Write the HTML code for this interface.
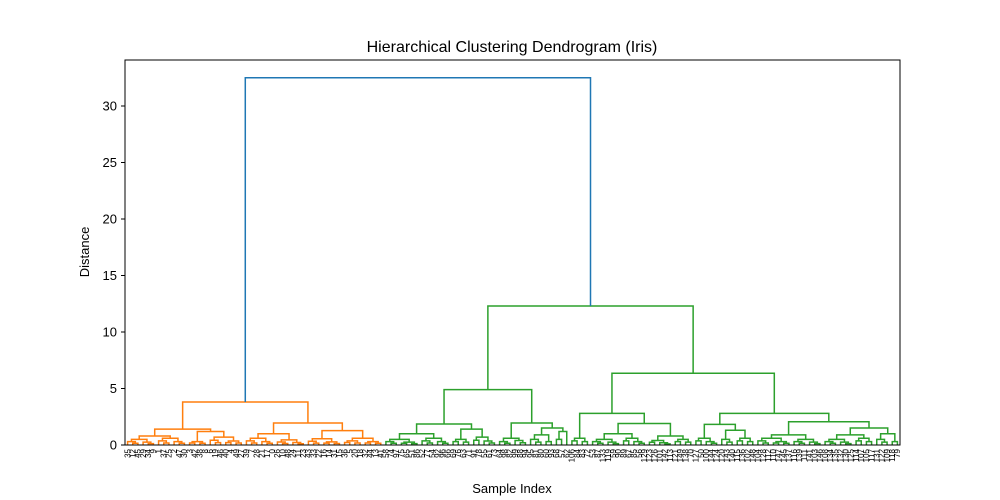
<!DOCTYPE html>
<html><head><meta charset="utf-8"><style>
body{margin:0;background:#fff}
svg{display:block;font-family:"Liberation Sans","DejaVu Sans",sans-serif}
</style></head><body>
<svg id="chart" width="1000" height="500" viewBox="0 0 1000 500">
<rect x="0" y="0" width="1000" height="500" fill="#fff"/>
<text x="512" y="52" text-anchor="middle" font-size="16">Hierarchical Clustering Dendrogram (Iris)</text>
<text x="512" y="493" text-anchor="middle" font-size="13">Sample Index</text>
<text transform="translate(89,252) rotate(-90)" text-anchor="middle" font-size="13">Distance</text>
<g id="links"></g>
<g id="yaxis"></g>
<g id="leaves"></g>
<rect x="125" y="60" width="775" height="385" fill="none" stroke="#000" stroke-width="1"/>
</svg>
<script>
const yTicks = [0, 5, 10, 15, 20, 25, 30];
const rootHeight = 32.5;
const orangeHeights = [3.8, 1.4, 0.8, 1.2, 1.95, 1.0, 1.27];
const greenHeights = [12.3, 4.9, 1.86, 1.0, 1.4, 1.95, 0.6, 1.5, 0.9, 1.2, 6.35, 2.8, 1.9, 1.0, 0.8, 2.8, 1.83, 1.3, 2.06, 0.9, 1.5, 0.9, 1.0];
const leafLabels = [35,12,45,29,34,9,1,37,25,2,47,30,3,42,38,8,6,19,46,40,4,49,27,39,7,28,21,17,0,26,10,48,24,11,23,43,33,22,16,14,31,15,36,5,20,18,32,44,13,41,
 58,74,97,75,65,51,86,52,77,54,92,96,66,69,76,63,71,91,78,55,61,73,64,98,82,99,88,94,95,81,80,60,93,68,57,62,
 106,84,83,72,53,87,133,119,59,90,89,67,85,56,129,123,126,101,142,113,121,149,138,70,
 127,50,100,144,124,120,143,140,115,136,102,148,104,128,112,110,147,145,137,116,139,111,141,103,146,108,134,135,132,130,125,114,107,105,117,131,122,109,118,79];

function B(n, h){
  if(n===1) return null;
  const k=Math.floor(n/2);
  return [h, k===1?null:B(k,h*0.6), n-k===1?null:B(n-k,h*0.5), k, n-k];
}
function N(h,a,b){return [h,a,b];}
const o=orangeHeights, g=greenHeights;
const orange = N(o[0],
  N(o[1], N(o[2],B(6,0.5),B(6,0.6)), N(o[3],B(4,0.3),B(7,0.7))),
  N(o[4], N(o[5],B(6,0.6),B(6,0.45)), N(o[6],B(7,0.55),B(8,0.6))));
const green = N(g[0],
  N(g[1],
    N(g[2], N(g[3],B(7,0.5),B(6,0.6)), N(g[4],B(4,0.5),B(5,0.7))),
    N(g[5], N(g[6],B(3,0.3),B(3,0.4)), N(g[7],N(g[8],B(3,0.5),B(2,0.3)),N(g[9],B(2,0.5),null)))),
  N(g[10],
    N(g[11], B(4,0.6), N(g[12],N(g[13],B(6,0.5),B(5,0.6)),N(g[14],B(5,0.4),B(4,0.5)))),
    N(g[15], N(g[16],B(5,0.6),N(g[17],B(3,0.5),B(4,0.6))),
             N(g[18],N(g[19],B(7,0.6),B(6,0.5)),N(g[20],N(g[21],B(6,0.5),B(4,0.6)),N(g[22],B(3,0.5),B(2,0.3)))))));
const tree = N(rootHeight, orange, green);

const X0=125,W=775,Y0=445,PPU=11.3,NL=150;
const xOf=i=>X0+(i+0.5)*W/NL;
const yOf=h=>Y0-h*PPU;
const NS="http://www.w3.org/2000/svg";
const links=document.getElementById('links');
let leafIdx=0;
function countLeaves(node){ if(node===null) return 1; if(node.length===5) return node[3]+node[4]; return countLeaves(node[1])+countLeaves(node[2]); }
function draw(node,color){
  if(node===null){const x=xOf(leafIdx++);return {x:x,h:0};}
  let a,b;
  if(node.length===5){
    a = node[1]===null && node[3]===1 ? draw(null,color) : draw(node[1]===null?null:node[1],color);
    b = node[2]===null && node[4]===1 ? draw(null,color) : draw(node[2]===null?null:node[2],color);
  } else {a=draw(node[1],color);b=draw(node[2],color);}
  const h=node[0];
  const p=document.createElementNS(NS,'path');
  p.setAttribute('d',`M${a.x},${yOf(a.h)}V${yOf(h)}H${b.x}V${yOf(b.h)}`);
  p.setAttribute('fill','none');p.setAttribute('stroke',color);p.setAttribute('stroke-width','1.5');
  
  
  links.appendChild(p);
  return {x:(a.x+b.x)/2,h:h};
}
const ro=draw(orange,'#ff7f0e');
const rg=draw(green,'#2ca02c');
const rp=document.createElementNS(NS,'path');
rp.setAttribute('d',`M${ro.x},${yOf(ro.h)}V${yOf(rootHeight)}H${rg.x}V${yOf(rg.h)}`);
rp.setAttribute('fill','none');rp.setAttribute('stroke','#1f77b4');rp.setAttribute('stroke-width','1.5');


links.appendChild(rp);

const ya=document.getElementById('yaxis');
yTicks.forEach(v=>{
  const y=yOf(v);
  const l=document.createElementNS(NS,'line');
  l.setAttribute('x1',121);l.setAttribute('x2',125);l.setAttribute('y1',y);l.setAttribute('y2',y);l.setAttribute('stroke','#000');
  
  
  ya.appendChild(l);
  const t=document.createElementNS(NS,'text');
  t.setAttribute('x',117);t.setAttribute('y',y+4.5);t.setAttribute('text-anchor','end');t.setAttribute('font-size','13');
  t.textContent=v;
  
  
  ya.appendChild(t);
});
const lv=document.getElementById('leaves');
leafLabels.forEach((lab,i)=>{
  const x=xOf(i);
  const t=document.createElementNS(NS,'text');
  t.setAttribute('transform',`translate(${x+2.8},449) rotate(-90)`);
  t.setAttribute('text-anchor','end');t.setAttribute('font-size','8');
  t.textContent=lab;
  
  
  lv.appendChild(t);
});
</script>
</body></html>
